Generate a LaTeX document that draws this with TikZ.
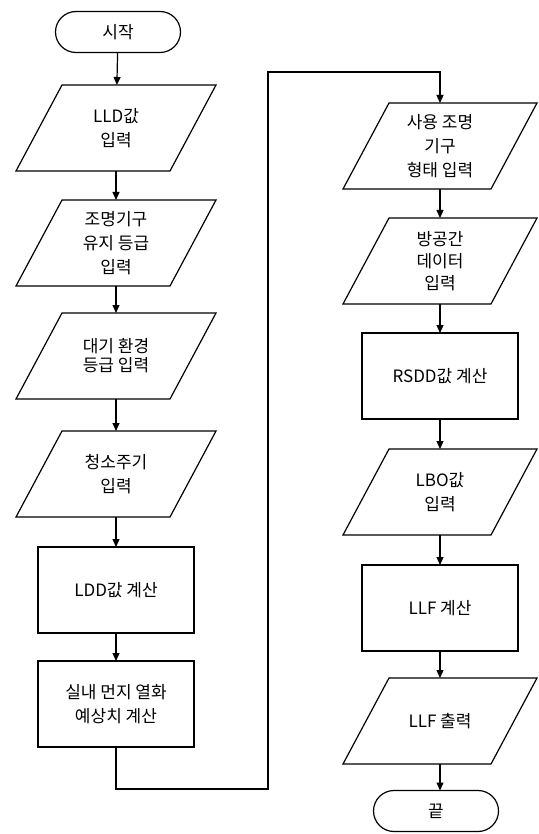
\documentclass[tikz,border=0pt]{standalone}
\usepackage{fontspec}
\setmainfont{Noto Sans CJK KR}
\usetikzlibrary{arrows.meta}
\begin{document}
\begin{tikzpicture}[x=1pt,y=-1pt, line width=1.2pt,
  every node/.style={inner sep=0pt, outer sep=0pt, align=center, font=\fontsize{17}{24}\selectfont},
  term/.style={draw, rounded corners=20.5pt, minimum width=125pt, minimum height=41pt},
  io/.style={minimum width=200pt, minimum height=86pt},
  proc/.style={draw, minimum width=156pt, minimum height=86pt},
  arr/.style={-{Triangle[length=8pt,width=7pt]}}]
\useasboundingbox (0,0) rectangle (538,834);
% left column
\node[term] (start) at (118,32) {시작};
\node[io] (lld) at (116,128) {LLD값\\입력};
\node[io] (jo) at (116,243) {조명기구\\유지 등급\\입력};
\node[io, font=\fontsize{17}{19}\selectfont] (daegi) at (116,356) {대기 환경\\등급 입력};
\node[io] (cheong) at (116,474) {청소주기\\입력};
\node[proc] (ldd) at (116,590) {LDD값 계산};
\node[proc] (sil) at (116,704) {실내 먼지 열화\\예상치 계산};
% right column
\node[io, minimum width=194pt] (sa) at (440,146) {사용 조명\\기구\\형태 입력};
\node[io, minimum width=194pt, font=\fontsize{17}{22}\selectfont] (bang) at (440,261) {방공간\\데이터\\입력};
\node[proc] (rsdd) at (440,376) {RSDD값 계산};
\node[io, minimum width=194pt] (lbo) at (440,492) {LBO값\\입력};
\node[proc] (llf) at (440,608) {LLF 계산};
\node[io, minimum width=194pt] (out) at (440,721) {LLF 출력};
\node[term] (end) at (436,811) {끝};
% parallelogram outlines
\foreach \n in {lld,jo,daegi,cheong,sa,bang,lbo,out}
  \draw ([xshift=46pt]\n.north west) -- (\n.north east) -- ([xshift=-46pt]\n.south east) -- (\n.south west) -- cycle;
% connectors
\draw[arr] (start) -- (lld);
\draw[arr] (lld) -- (jo);
\draw[arr] (jo) -- (daegi);
\draw[arr] (daegi) -- (cheong);
\draw[arr] (cheong) -- (ldd);
\draw[arr] (ldd) -- (sil);
\coordinate (c1) at (116,789);
\coordinate (c2) at (268,789);
\coordinate (c3) at (268,72);
\coordinate (c4) at (440,72);
\draw[arr] (sil) -- (c1) -- (c2) -- (c3) -- (c4) -- (sa);
\draw[arr] (sa) -- (bang);
\draw[arr] (bang) -- (rsdd);
\draw[arr] (rsdd) -- (lbo);
\draw[arr] (lbo) -- (llf);
\draw[arr] (llf) -- (out);
\draw[arr] (out.south) -- (out.south |- end.north);
\end{tikzpicture}
\end{document}
